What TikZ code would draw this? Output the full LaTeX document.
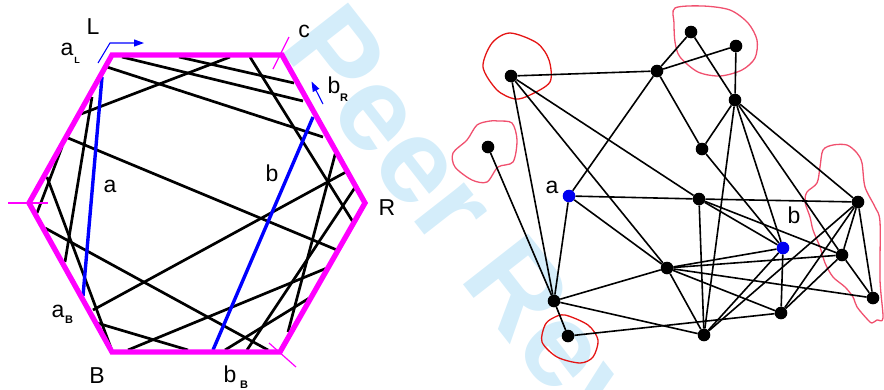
\documentclass[tikz,border=0pt]{standalone}
\usepackage{fontspec}
\setmainfont{Liberation Sans}
\newfontfamily\wmfont{Liberation Sans}
\usetikzlibrary{arrows.meta}
\definecolor{hexmag}{RGB}{255,0,255}
\definecolor{chordblue}{RGB}{0,0,255}
\definecolor{wmblue}{RGB}{212,237,250}
\definecolor{loopred}{RGB}{228,20,20}
\definecolor{looppink}{RGB}{240,80,110}
\definecolor{nodeblue}{RGB}{0,0,240}
\begin{document}
\begin{tikzpicture}[x=1pt,y=-1pt,
  chord/.style={line width=2.7pt},
  bluechord/.style={line width=3.4pt, color=chordblue},
  hexedge/.style={line width=5.3pt, color=hexmag, line join=miter},
  tickmark/.style={line width=1.2pt, color=hexmag},
  dirarrow/.style={line width=1.1pt, color=chordblue, -{Triangle[length=10pt,width=7pt]}},
  lbl/.style={font=\fontsize{23}{23}\selectfont, inner sep=0pt},
  sublbl/.style={font=\fontsize{11}{11}\selectfont\bfseries, inner sep=0pt},
  vtx/.style={circle, fill=black, inner sep=0pt, minimum size=12.6pt},
  bvtx/.style={circle, fill=nodeblue, inner sep=0pt, minimum size=12.6pt},
  gedge/.style={line width=1.6pt},
  loopline/.style={line width=1.3pt}]
\useasboundingbox (0,0) rectangle (884,389);
% watermark
\begin{scope}
\clip (0,0) rectangle (884,389);
\node[rotate=-52, anchor=base west, inner sep=0pt, text=wmblue,
  font=\wmfont\bfseries\fontsize{120}{120}\selectfont] (wm) at (278,47) {Peer Review};
\end{scope}
% hexagon chords
\draw[chord] (179,57) -- (294,83);
\draw[chord] (122,57) -- (303,101);
\draw[chord] (107,67) -- (323,137);
\draw[chord] (230,57) -- (81,114);
\draw[chord] (250,57) -- (353,222);
\draw[chord] (68,138) -- (337,250);
\draw[chord] (336,151) -- (288,332);
\draw[chord] (93,310) -- (346,172);
\draw[chord] (356,186) -- (247,350);
\draw[chord] (128,350) -- (327,268);
\draw[chord] (225,350) -- (311,297);
\draw[chord] (45,228) -- (268,350);
\draw[chord] (97,323) -- (188,350);
\draw[chord] (62,147) -- (37,213);
\draw[chord] (47,177) -- (111,348);
\draw[chord] (92,97) -- (65,262);
\draw[bluechord] (102,77) -- (83,296);
\draw[bluechord] (313,117) -- (213,350);
% hexagon
\coordinate (H1) at (112,55);
\coordinate (H2) at (282,55);
\coordinate (H3) at (365,203);
\coordinate (H4) at (280,352);
\coordinate (H5) at (112,352);
\coordinate (H6) at (29,203);
\draw[hexedge] (H1) -- (H2) -- (H3) -- (H4) -- (H5) -- (H6) -- cycle;
\draw[tickmark] (273,69) -- (289,37);
\draw[tickmark] (8,203) -- (48,203);
\draw[tickmark] (269,343) -- (296,367);
\draw[dirarrow] (98,63) -- (110,43) -- (144,43);
\draw[dirarrow] (323,104) -- (311.5,81.5);
% labels
\node[lbl] (lL) at (93,27) {L};
\node[lbl] (laL) at (67,49) {a};
\node[sublbl, font=\fontsize{9}{9}\selectfont\bfseries] (laLs) at (77,60) {L};
\node[lbl] (lc) at (304,31) {c};
\node[lbl] (lbR) at (334,85) {b};
\node[sublbl] (lbRs) at (344,97.5) {R};
\node[lbl] (la) at (110,186) {a};
\node[lbl] (lb) at (272,173) {b};
\node[lbl] (lR) at (387,208) {R};
\node[lbl] (laB) at (58,311) {a};
\node[sublbl] (laBs) at (69,320) {B};
\node[lbl] (lB) at (97,376) {B};
\node[lbl] (lbB) at (230,374) {b};
\node[sublbl] (lbBs) at (244,384.5) {B};
% graph loops
\draw[loopline, loopred] plot[smooth cycle] coordinates {(510,33) (537,43) (549,60) (550,82) (530,95) (515,99) (497,90) (483,67) (492,43)};
\draw[loopline, looppink] plot[smooth cycle] coordinates {(498,121) (512,123) (517,140) (513,162) (498,167) (487,182) (472,180) (455,167) (453,153) (467,140) (477,125) (490,121)};
\draw[loopline, loopred] plot[smooth cycle] coordinates {(565,315) (588,325) (598,340) (593,357) (580,363) (557,357) (542,342) (545,325) (553,318)};
\draw[loopline, looppink] plot[smooth cycle] coordinates {(675,8) (703,6) (730,10) (748,23) (757,40) (755,58) (742,70) (720,76) (698,72) (680,57) (675,42) (674,23)};
\draw[loopline, looppink] plot[smooth cycle] coordinates {(833,145) (847,145) (857,153) (862,163) (865,187) (875,207) (880,222) (880,280) (883,318) (877,320) (872,323) (868,320) (857,307) (853,297) (845,287) (833,277) (825,263) (820,247) (813,230) (810,217) (805,202) (807,192) (817,183) (820,167) (823,150)};
% graph nodes
\node[vtx] (n1) at (511,76) {};
\node[vtx] (n2) at (657,71) {};
\node[vtx] (n3) at (691,32) {};
\node[vtx] (n4) at (736,46) {};
\node[vtx] (n5) at (735,100) {};
\node[vtx] (n6) at (702,149) {};
\node[vtx] (n7) at (488,147) {};
\node[bvtx] (na) at (569,196) {};
\node[vtx] (n8) at (699,199) {};
\node[vtx] (n9) at (858,202) {};
\node[bvtx] (nb) at (783,248) {};
\node[vtx] (n10) at (842,255) {};
\node[vtx] (n11) at (667,268) {};
\node[vtx] (n12) at (873,298) {};
\node[vtx] (n13) at (554,301) {};
\node[vtx] (n14) at (781,313) {};
\node[vtx] (n15) at (704,335) {};
\node[vtx] (n16) at (568,336) {};
\node[lbl] (ga) at (552,187) {a};
\node[lbl] (gb) at (794,215) {b};
% graph edges
\begin{scope}[on background layer/.style={}]
\foreach \u/\v in {n1/n2, n1/n13, n1/n11, n1/n8, n2/na, n2/n3, n2/n4, n2/n6,
  n3/n5, n4/n5, n5/n6, n5/n15, n5/nb, n5/n10, n5/n9, n6/nb, n7/n13,
  na/n8, n8/n9, na/n13, na/n11, n13/n11, n13/n15, n13/n16, n16/n14,
  n11/n15, n11/nb, n11/n10, n11/n12, n11/n14, n8/n15, n8/nb, n8/n10,
  n9/n15, n9/n14, n9/n10, n9/n12, n10/n12, nb/n15, n14/n10, nb/n14}
  \draw[gedge] (\u) -- (\v);
\end{scope}
\end{tikzpicture}
\end{document}
